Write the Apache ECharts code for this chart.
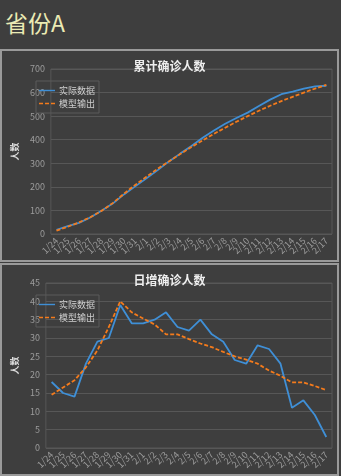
<!DOCTYPE html>
<html>
<head>
<meta charset="utf-8">
<script src="https://cdn.jsdelivr.net/npm/echarts@6/dist/echarts.min.js"></script>
<style>
    html, body { margin: 0; padding: 0; background: #3e3e3e; width: 341px; height: 476px; overflow: hidden; }
    .page-title {
        position: absolute; left: 5px; top: 7px;
        font-family: "Noto Sans CJK SC", sans-serif; font-size: 23px;
        color: #ebebb4; line-height: 30px;
    }
    .panel {
        position: absolute; left: 0; width: 339px; height: 213px;
        box-sizing: border-box; border: 2px solid #9a9a9a;
    }
    .chart { width: 100%; height: 100%; }
</style>
</head>
<body>
<div class="page-title">省份A</div>
<div class="panel" style="top: 49px;"><div class="chart" id="chartTotal"></div></div>
<div class="panel" style="top: 263px;"><div class="chart" id="chartDaily"></div></div>
<script>
    // 日期
    const dates = ['1/24', '1/25', '1/26', '1/27', '1/28', '1/29', '1/30', '1/31', '2/1', '2/2', '2/3', '2/4', '2/5',
        '2/6', '2/7', '2/8', '2/9', '2/10', '2/11', '2/12', '2/13', '2/14', '2/15', '2/16', '2/17'];
    // 累计确诊
    const totalActual = [18, 33, 47, 70, 99, 129, 168, 202, 236, 271, 308, 341, 373, 408, 439, 468, 492, 515, 543, 570, 593, 604, 617, 626, 629];
    const totalModel = [14, 31, 49, 71, 98, 131, 171, 208, 243, 277, 308, 339, 369, 397, 425, 451, 476, 500, 523, 544, 564, 582, 600, 617, 633];
    // 日增确诊
    const dailyActual = [18, 15, 14, 23, 29, 30, 39, 34, 34, 35, 37, 33, 32, 35, 31, 29, 24, 23, 28, 27, 23, 11, 13, 9, 3];
    const dailyModel = [14.5, 16.5, 18.5, 22, 26.6, 33, 40, 37, 35.3, 33.7, 31, 31, 29.7, 28.5, 27.5, 26.2, 25, 24.1, 23, 21.1, 19.7, 17.9, 17.9, 16.9, 15.8];

    const font = '"Noto Sans CJK SC", sans-serif';
    const blue = '#3f8fd6';
    const orange = '#f47b1c';
    const gridColor = '#575757';

    function makeOption(title, actual, model, max, interval) {
        return {
            animation: false,
            backgroundColor: '#3e3e3e',
            textStyle: { fontFamily: font },
            title: {
                text: title,
                left: 'center',
                top: 4,
                textStyle: { color: '#eeeeee', fontSize: 12, fontWeight: 'bold', fontFamily: font }
            },
            legend: {
                orient: 'vertical',
                left: 34,
                top: 30,
                padding: [5, 4, 5, 3],
                itemGap: 4,
                itemWidth: 16,
                itemHeight: 9,
                borderColor: '#5a5a5a',
                borderWidth: 1,
                textStyle: { color: '#cfcfcf', fontSize: 9, fontFamily: font, padding: [0, 0, 0, -1] },
                data: [
                    { name: '实际数据', icon: 'path://M0,4 L16,4 L16,5.4 L0,5.4 Z' },
                    { name: '模型输出', icon: 'path://M0,4 L4,4 L4,5.4 L0,5.4 Z M6,4 L10,4 L10,5.4 L6,5.4 Z M12,4 L16,4 L16,5.4 L12,5.4 Z' }
                ]
            },
            grid: {
                left: 31, right: 5, top: 18, bottom: 26,
                show: true,
                borderColor: gridColor,
                borderWidth: 1
            },
            xAxis: {
                type: 'category',
                data: dates,
                boundaryGap: true,
                axisLine: { show: false },
                axisTick: { show: false },
                axisLabel: { color: '#9c9c9c', fontSize: 9, rotate: 45, margin: 5, interval: 0, fontFamily: font }
            },
            yAxis: {
                type: 'value',
                min: 0,
                max: max,
                interval: interval,
                name: '人数',
                nameLocation: 'middle',
                nameGap: 22,
                nameRotate: 90,
                nameTextStyle: { color: '#dddddd', fontSize: 9, fontWeight: 'bold', fontFamily: font },
                axisLine: { show: false },
                axisTick: { show: false },
                axisLabel: { color: '#9c9c9c', fontSize: 9, margin: 6, fontFamily: font },
                splitLine: { lineStyle: { color: gridColor, width: 1 } }
            },
            series: [
                {
                    name: '实际数据',
                    type: 'line',
                    data: actual,
                    symbol: 'none',
                    itemStyle: { color: blue },
                    lineStyle: { color: blue, width: 1.8 }
                },
                {
                    name: '模型输出',
                    type: 'line',
                    data: model,
                    symbol: 'none',
                    itemStyle: { color: orange },
                    lineStyle: { color: orange, width: 1.8, type: [4, 2] }
                }
            ]
        };
    }

    const chartTotal = echarts.init(document.getElementById('chartTotal'));
    chartTotal.setOption(makeOption('累计确诊人数', totalActual, totalModel, 700, 100));

    const chartDaily = echarts.init(document.getElementById('chartDaily'));
    chartDaily.setOption(makeOption('日增确诊人数', dailyActual, dailyModel, 45, 5));
</script>
</body>
</html>
